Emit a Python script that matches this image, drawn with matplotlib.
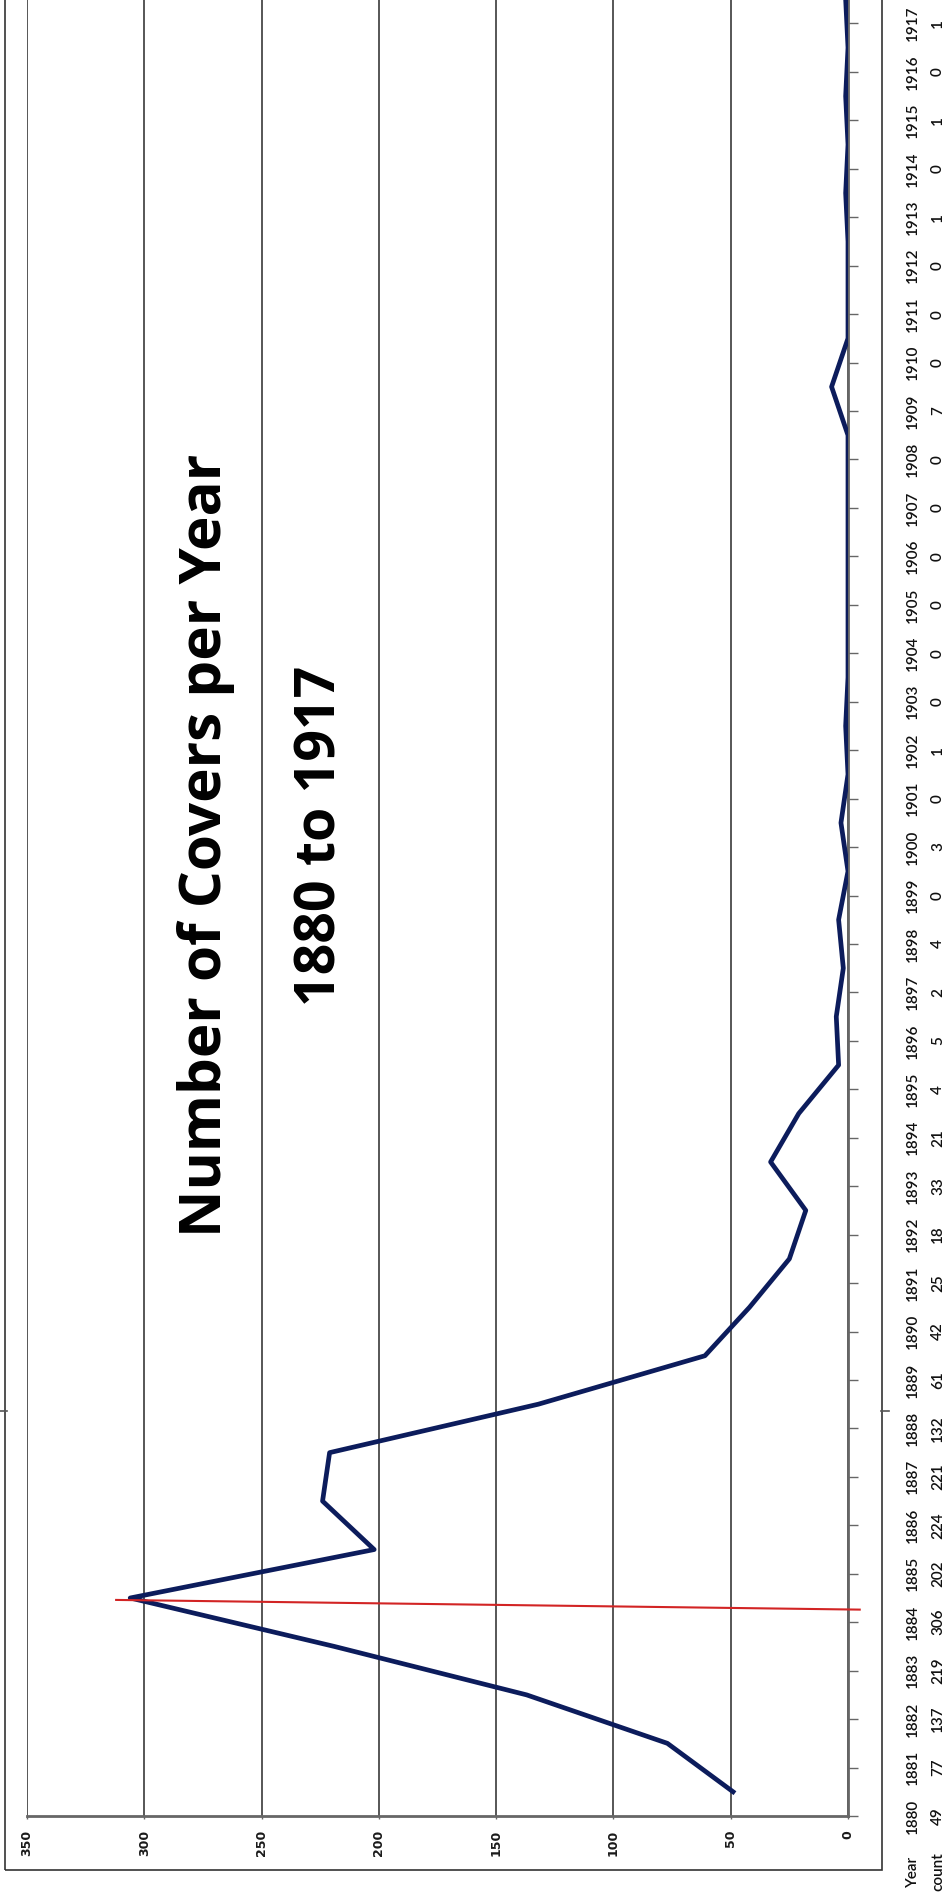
import matplotlib
matplotlib.use("Agg")
import matplotlib.pyplot as plt
from matplotlib.patches import Rectangle
from matplotlib.lines import Line2D
from matplotlib.transforms import blended_transform_factory

years = list(range(1880, 1918))
counts = [49, 77, 137, 219, 306, 202, 224, 221, 132, 61, 42, 25, 18, 33, 21, 4, 5, 2, 4, 0,
          3, 0, 1, 0, 0, 0, 0, 0, 0, 7, 0, 0, 0, 1, 0, 1, 0, 1]
value_ticks = [0, 50, 100, 150, 200, 250, 300, 350]
table_header = ["Year", "count"]
title_lines = ["Number of Covers per Year", "1880 to 1917"]
marked_year = 1884

NAVY = "#0c1c5c"
RED = "#d22424"
GRID = "#3a3a3a"
AXIS = "#666666"
FONT = ["Lato", "DejaVu Sans"]
TITLE_FONT = ["Open Sans", "Lato", "DejaVu Sans"]

W, H = 943, 1900
fig = plt.figure(figsize=(W / 100, H / 100), dpi=100)


def fx(px):
    return px / W


def fy(py):
    return 1 - py / H


# plot area in pixels (top runs off the picture, as in the scan)
left, right, bottom_px, top_px = 27, 848, 1816, -25
ax = fig.add_axes([fx(left), fy(bottom_px), fx(right - left), (bottom_px - top_px) / H])
ax.set_xlim(350, 0)
ax.set_ylim(years[0] - 0.5, years[-1] + 0.5)

for v in value_ticks:
    ax.axvline(v, color=GRID, lw=1.2, zorder=1)

ax.plot(counts, years, color=NAVY, lw=3.4, solid_joinstyle="round", zorder=3)

# hand-drawn red marker at the peak year
peak = counts[years.index(marked_year)]
ax.plot([peak + 6, -5], [marked_year - 0.04, marked_year - 0.24],
        color=RED, lw=1.5, clip_on=False, zorder=4)

for s in ("top", "left"):
    ax.spines[s].set_visible(False)
for s in ("right", "bottom"):
    ax.spines[s].set_color(AXIS)
    ax.spines[s].set_linewidth(2)

ax.yaxis.tick_right()
ax.set_yticks([y - 0.5 for y in years] + [years[-1] + 0.5])
ax.set_yticklabels([])
ax.tick_params(axis="y", direction="out", length=7, width=1, color=AXIS)

ax.set_xticks(value_ticks)
ax.set_xticklabels([str(v) for v in value_ticks], rotation=90, fontsize=9,
                   color="#1a1a1a", family=["DejaVu Sans"], weight="bold")
ax.tick_params(axis="x", length=2, width=1, color=AXIS, pad=8)

# data table on the right, rotated like the rest of the chart
trans = blended_transform_factory(fig.transFigure, ax.transData)
tkw = dict(rotation=90, rotation_mode="anchor", ha="center", va="baseline",
           fontsize=11, family=FONT, weight="semibold", color="#111111")
for y, c in zip(years, counts):
    ax.text(fx(917), y - 0.5, str(y), transform=trans, clip_on=False, **tkw)
    ax.text(fx(942), y - 0.5, str(c), transform=trans, clip_on=False, **tkw)
fig.text(fx(917), fy(1872), table_header[0], **tkw)
fig.text(fx(942), fy(1872), table_header[1], **tkw)

# title
fig.text(fx(221), fy(845), title_lines[0], rotation=90, rotation_mode="anchor",
         ha="center", va="baseline", fontsize=42, weight="bold", family=TITLE_FONT, color="black")
fig.text(fx(335), fy(836), title_lines[1], rotation=90, rotation_mode="anchor",
         ha="center", va="baseline", fontsize=40, weight="bold", family=TITLE_FONT, color="black")

# outer chart frame with its small side handles
fig.add_artist(Rectangle((fx(5), fy(1870)), fx(882 - 5), 1.2, transform=fig.transFigure,
                         fill=False, ec="#333333", lw=1.2))
for x0, x1 in ((0, 7), (881, 889)):
    fig.add_artist(Line2D([fx(x0), fx(x1)], [fy(1411), fy(1411)], transform=fig.transFigure,
                          color="#555555", lw=1.2))

fig.savefig("out.png", dpi=100)
plt.close(fig)
